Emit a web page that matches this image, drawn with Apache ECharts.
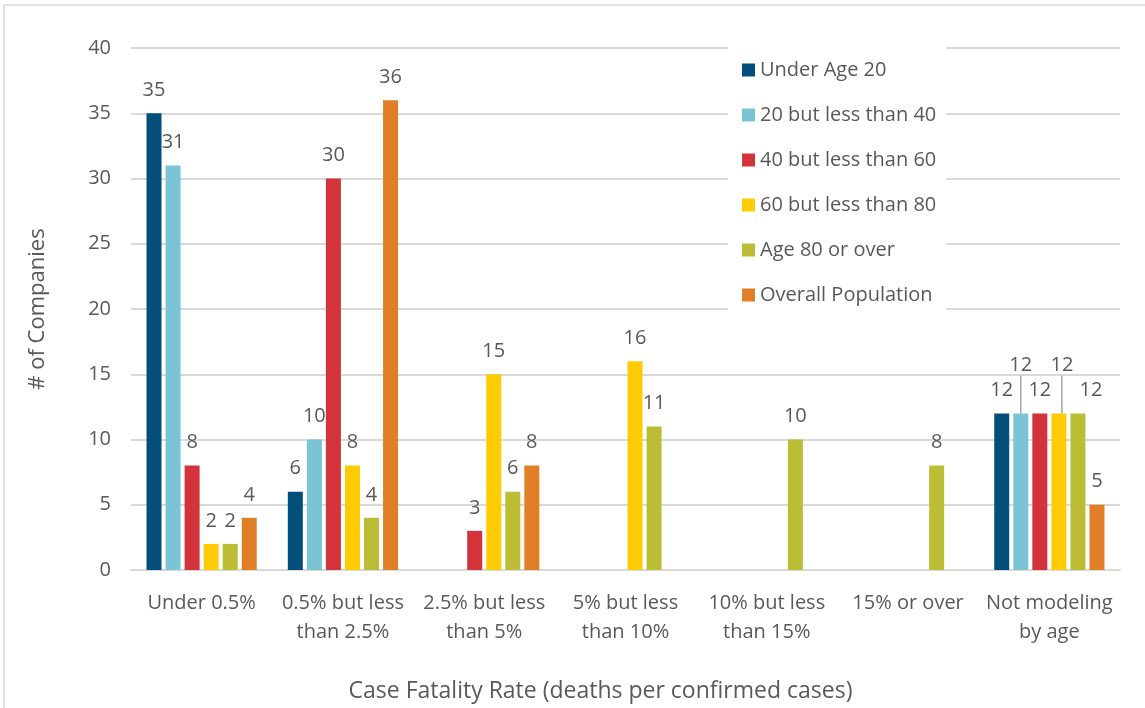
<!DOCTYPE html>
<html lang="en">
<head>
    <meta charset="utf-8">
    <title>Case Fatality Rate</title>
    <script type="text/javascript" src="https://cdn.jsdelivr.net/npm/echarts@6/dist/echarts.min.js"></script>
</head>
<body style="margin:0;">
    <div id="myEcharts" style="width: 1145px; height: 708px;"></div>
<script type="text/javascript">
    // 数据
    const categories = ['Under 0.5%', '0.5% but less\nthan 2.5%', '2.5% but less\nthan 5%', '5% but less\nthan 10%',
        '10% but less\nthan 15%', '15% or over', 'Not modeling\nby age'];
    const seriesNames = ['Under Age 20', '20 but less than 40', '40 but less than 60',
        '60 but less than 80', 'Age 80 or over', 'Overall Population'];
    const under20 = [35, 6, null, null, null, null, 12];
    const age20to40 = [31, 10, null, null, null, null, 12];
    const age40to60 = [8, 30, 3, null, null, null, 12];
    const age60to80 = [2, 8, 15, 16, null, null, 12];
    const age80plus = [2, 4, 6, 11, 10, 8, 12];
    const overall = [4, 36, 8, null, null, null, 5];
    const yTicks = [0, 5, 10, 15, 20, 25, 30, 35, 40];

    const colors = ['#034E7B', '#7AC4D4', '#D3333B', '#FFCB05', '#BBBE35', '#E17F28'];
    const allData = [under20, age20to40, age40to60, age60to80, age80plus, overall];
    const font = 'Open Sans';
    const textColor = '#595959';

    // Excel 挪开了最后一组里重叠的标签
    function isRaised(s, d) {
        return d === 6 && (s === 1 || s === 3);
    }

    let myChart = echarts.init(document.getElementById('myEcharts'));
    let option = {
        textStyle: { fontFamily: font },
        graphic: [{
            type: 'rect',
            shape: { x: 4, y: 5, width: 1300, height: 900 },
            style: { fill: 'none', stroke: '#d9d9d9', lineWidth: 1.5 },
            silent: true
        }],
        legend: {
            orient: 'vertical',
            left: 728,
            top: 46,
            padding: [14, 10, 12, 14],
            itemGap: 25,
            itemWidth: 13,
            itemHeight: 13,
            backgroundColor: '#fff',
            icon: 'rect',
            textStyle: { fontSize: 20, color: textColor, fontFamily: font },
            data: seriesNames
        },
        grid: { left: 131, right: 25, top: 48, bottom: 138 },
        xAxis: {
            type: 'category',
            data: categories,
            name: 'Case Fatality Rate (deaths per confirmed cases)',
            nameLocation: 'middle',
            nameGap: 110,
            nameTextStyle: { fontSize: 23, color: textColor, padding: [0, 50, 0, 0] },
            axisLine: { lineStyle: { color: '#d9d9d9', width: 2 } },
            axisTick: { show: false },
            axisLabel: { fontSize: 20, color: textColor, lineHeight: 29, margin: 19, interval: 0 }
        },
        yAxis: {
            type: 'value',
            min: yTicks[0],
            max: yTicks[yTicks.length - 1],
            interval: 5,
            name: '# of Companies',
            nameLocation: 'middle',
            nameGap: 82,
            nameTextStyle: { fontSize: 22, color: textColor },
            axisLabel: { fontSize: 20, color: textColor, margin: 20 },
            splitLine: { lineStyle: { color: '#d9d9d9', width: 2 } }
        },
        series: seriesNames.map((name, i) => ({
            name: name,
            type: 'bar',
            barWidth: 15,
            barGap: '27%',
            itemStyle: { color: colors[i] },
            data: allData[i].map((v, j) => isRaised(i, j)
                ? { value: v, labelLine: { show: true } }
                : v),
            label: {
                show: true,
                position: 'top',
                distance: 13,
                fontSize: 20,
                color: textColor
            },
            labelLine: { show: false, lineStyle: { color: '#a6a6a6', width: 1.5 } },
            labelLayout: function (params) {
                if (isRaised(params.seriesIndex, params.dataIndex)) {
                    return { dy: -25, dx: params.seriesIndex === 3 ? 3 : 0 };
                }
                if (params.dataIndex === 6 && params.seriesIndex === 4) {
                    return { dx: 13 };
                }
                return {};
            }
        }))
    };
    myChart.setOption(option);
</script>
</body>
</html>
